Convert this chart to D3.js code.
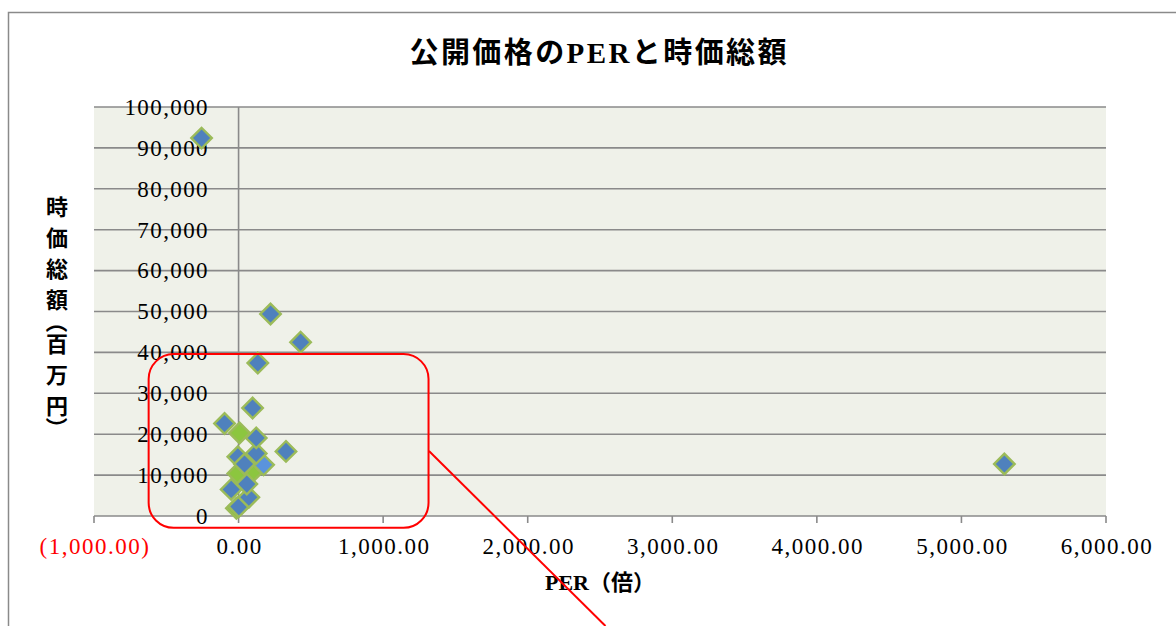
<!DOCTYPE html>
<html>
<head>
<meta charset="utf-8">
<script src="https://cdn.jsdelivr.net/npm/d3@7"></script>
<style>
body { margin: 0; background: #fff; }
svg { display: block; }
</style>
</head>
<body>
<div id="chart"></div>
<script>
// 公開価格のPER（倍）
const perValues = [-15, 2, 71, -51, -5, 97, 57, 173, -5, 122, 41, -97, 7, 122, 328, 97, 133, 221, 429, -256, 5297];
// 時価総額（百万円）
const capValues = [1900, 2300, 4600, 6500, 10400, 10800, 7800, 12500, 14500, 15300, 12700, 22600, 20300, 19100, 15800, 26400, 37400, 49400, 42500, 92400, 12700];
// マーカーの種類
const pointKinds = ["green", "blue", "blue", "blue", "green", "green", "blue", "light", "blue", "blue", "blue", "blue", "green", "blue", "blue", "blue", "blue", "blue", "blue", "blue", "blue"];

const xTicks = [-1000, 0, 1000, 2000, 3000, 4000, 5000, 6000];
const yTicks = [0, 10000, 20000, 30000, 40000, 50000, 60000, 70000, 80000, 90000, 100000];

const chartTitle = "公開価格のPERと時価総額";
const xTitle = "PER（倍）";
const yTitleChars = ["時", "価", "総", "額", "（", "百", "万", "円", "）"];

// 注記（赤枠と引き出し線）をデータ座標で
const noteBox = { x0: -622, x1: 1314, y0: 39600, y1: -2900 };
const noteLine = { x0: 1317, y0: 15900, x1: 2538, y1: -26900 };

function drawChart(options = {}) {
	const {
		width = 1176,
		height = 626,
		containerTag = "#chart"
	} = options;

	const svg = d3.select(containerTag)
		.append("svg")
		.attr("width", width)
		.attr("height", height);

	const x = d3.scaleLinear().domain([-1000, 6000]).range([94, 1106]);
	const y = d3.scaleLinear().domain([0, 100000]).range([516, 107]);

	const serif = "'Liberation Serif', 'Noto Sans CJK JP', serif";
	const gridColor = "#8a8a8a";
	const fills = { blue: "#4f81bd", green: "#8cc63f", light: "#5a93dc" };

	// 外枠
	svg.append("path")
		.attr("d", `M8.5,${height} V12.5 H${width}`)
		.attr("fill", "none")
		.attr("stroke", "#8a8a8a")
		.attr("stroke-width", 1.5);

	// タイトル
	svg.append("text")
		.attr("x", 598)
		.attr("y", 63)
		.attr("text-anchor", "middle")
		.attr("font-family", serif)
		.attr("font-weight", "bold")
		.attr("font-size", 29)
		.attr("textLength", 377)
		.attr("lengthAdjust", "spacing")
		.text(chartTitle);

	// プロットエリア
	svg.append("rect")
		.attr("x", x.range()[0])
		.attr("y", y.range()[1])
		.attr("width", x.range()[1] - x.range()[0])
		.attr("height", y.range()[0] - y.range()[1])
		.attr("fill", "#eff1e9");

	// 目盛線
	svg.append("g")
		.selectAll("line")
		.data(yTicks)
		.join("line")
		.attr("x1", x.range()[0])
		.attr("x2", x.range()[1])
		.attr("y1", d => y(d))
		.attr("y2", d => y(d))
		.attr("stroke", gridColor)
		.attr("stroke-width", 1.6);

	// 縦軸（PER=0）
	svg.append("line")
		.attr("x1", x(0)).attr("x2", x(0))
		.attr("y1", y(100000)).attr("y2", y(0))
		.attr("stroke", gridColor)
		.attr("stroke-width", 1.6);

	// 横軸の目盛
	svg.append("g")
		.selectAll("line")
		.data(xTicks)
		.join("line")
		.attr("x1", d => x(d))
		.attr("x2", d => x(d))
		.attr("y1", y(0))
		.attr("y2", y(0) + 7)
		.attr("stroke", gridColor)
		.attr("stroke-width", 1.6);

	// 横軸ラベル
	const fmtX = d => d < 0 ? `(${d3.format(",.2f")(-d)})` : d3.format(",.2f")(d);
	svg.append("g")
		.selectAll("text")
		.data(xTicks)
		.join("text")
		.attr("x", d => x(d) + 1)
		.attr("y", 554)
		.attr("text-anchor", "middle")
		.attr("font-family", serif)
		.attr("font-size", 23)
		.attr("letter-spacing", 1.5)
		.attr("fill", d => d < 0 ? "#ff0000" : "#000")
		.text(fmtX);

	// 縦軸ラベル
	svg.append("g")
		.selectAll("text")
		.data(yTicks)
		.join("text")
		.attr("x", 209)
		.attr("y", d => y(d))
		.attr("dy", "0.34em")
		.attr("text-anchor", "end")
		.attr("font-family", serif)
		.attr("font-size", 23)
		.attr("letter-spacing", 1.4)
		.text(d => d3.format(",")(d));

	// 軸タイトル
	svg.append("text")
		.attr("x", 600)
		.attr("y", 590)
		.attr("text-anchor", "middle")
		.attr("font-family", serif)
		.attr("font-weight", "bold")
		.attr("font-size", 22)
		.attr("textLength", 110)
		.attr("lengthAdjust", "spacingAndGlyphs")
		.text(xTitle);

	let cy = 207;
	const yTitle = svg.append("g");
	yTitleChars.forEach((ch, i) => {
		const isParen = ch === "（" || ch === "）";
		if (i > 0) {
			const prevParen = yTitleChars[i - 1] === "（" || yTitleChars[i - 1] === "）";
			cy += (isParen || prevParen) ? 22 : 31;
		}
		yTitle.append("text")
			.attr("transform", `translate(57,${cy})` + (isParen ? " rotate(90)" : ""))
			.attr("text-anchor", "middle")
			.attr("dy", "0.36em")
			.attr("font-family", "'Noto Sans CJK JP', sans-serif")
			.attr("font-weight", "bold")
			.attr("font-size", 22)
			.text(ch);
	});

	// マーカー
	const points = perValues.map((v, i) => ({ per: v, cap: capValues[i], kind: pointKinds[i] }));
	const diamond = d3.symbol().type(d3.symbolSquare).size(210);
	svg.append("g")
		.selectAll("path")
		.data(points)
		.join("path")
		.attr("d", diamond)
		.attr("transform", d => `translate(${x(d.per)},${y(d.cap)}) rotate(45)`)
		.attr("fill", d => fills[d.kind])
		.attr("stroke", "#9bbb59")
		.attr("stroke-width", 2.4);

	// 注記
	svg.append("rect")
		.attr("x", x(noteBox.x0))
		.attr("y", y(noteBox.y0))
		.attr("width", x(noteBox.x1) - x(noteBox.x0))
		.attr("height", y(noteBox.y1) - y(noteBox.y0))
		.attr("rx", 25)
		.attr("fill", "none")
		.attr("stroke", "#ff0000")
		.attr("stroke-width", 2);

	svg.append("line")
		.attr("x1", x(noteLine.x0)).attr("y1", y(noteLine.y0))
		.attr("x2", x(noteLine.x1)).attr("y2", y(noteLine.y1))
		.attr("stroke", "#ff0000")
		.attr("stroke-width", 2);
}

drawChart();
</script>
</body>
</html>
